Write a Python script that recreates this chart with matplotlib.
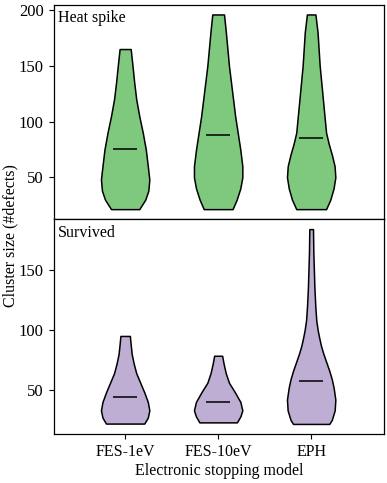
import numpy as np
import matplotlib
matplotlib.use("Agg")
import matplotlib.pyplot as plt

plt.rcParams["font.family"] = ["Liberation Serif", "DejaVu Serif"]
plt.rcParams["font.size"] = 11

# Modelos de freamento eletronico
models = ["FES-1eV", "FES-10eV", "EPH"]

# Perfis de densidade: tamanho do cluster -> meia largura relativa
hs_1ev_size = [21.5, 30, 38, 48, 60, 75, 90, 105, 120, 135, 150, 165]
hs_1ev_dens = [14, 20, 23, 24, 22.5, 20.5, 17.5, 14, 11, 9, 7.3, 5.5]
hs_10ev_size = [21.5, 30, 40, 50, 60, 75, 90, 105, 120, 135, 150, 165, 180, 196]
hs_10ev_dens = [14, 18, 21.5, 23.5, 23.5, 21.5, 19, 16.5, 14.5, 12.5, 10.5, 9, 7.5, 5.7]
hs_eph_size = [21.5, 30, 40, 50, 60, 70, 80, 90, 105, 120, 135, 150, 165, 180, 196]
hs_eph_dens = [14, 18, 21, 22.7, 22, 19.5, 16.5, 14, 12.5, 11, 9.5, 8, 7, 6, 4]

sv_1ev_size = [22, 27, 33, 40, 48, 56, 64, 72, 80, 88, 95]
sv_1ev_dens = [19, 22.5, 24, 22.5, 19, 15, 11, 8.5, 6.5, 5.5, 4.7]
sv_10ev_size = [23, 28, 33, 40, 48, 56, 64, 72, 78.5]
sv_10ev_dens = [17.3, 20.5, 22.3, 20.5, 15.5, 10, 7, 5, 3.7]
sv_eph_size = [21.7, 25, 33, 42, 52, 59, 66, 73, 80, 87, 94, 100, 108, 120, 135, 150, 165, 184]
sv_eph_dens = [16.7, 19, 21.7, 22.3, 20.7, 19, 16.7, 14, 11.3, 9, 7.3, 6, 4.7, 3.8, 3, 2.5, 2, 1.7]

# Medias (linhas pretas)
hs_means = [75.5, 88, 85.3]
sv_means = [44.4, 40.3, 57.5]


def build_stats(sizes, dens, means):
    stats = []
    for s, d, m in zip(sizes, dens, means):
        s = np.asarray(s, dtype=float)
        stats.append({
            "coords": s,
            "vals": np.asarray(d, dtype=float),
            "mean": m,
            "median": np.nan,
            "min": s.min(),
            "max": s.max(),
        })
    return stats


def draw_violins(ax, stats, color):
    pos = np.arange(len(stats))
    parts = ax.violin(stats, positions=pos, widths=0.52,
                      showmeans=True, showextrema=False, showmedians=False)
    for body in parts["bodies"]:
        body.set_facecolor(color)
        body.set_edgecolor("black")
        body.set_linewidth(1.1)
        body.set_alpha(1)
    parts["cmeans"].set_color("black")
    parts["cmeans"].set_linewidth(1.1)


fig = plt.figure(figsize=(3.87, 4.83), dpi=100)
ax_top = fig.add_axes([0.1395, 0.546, 0.852, 0.4437])
ax_bot = fig.add_axes([0.1395, 0.1014, 0.852, 0.4446], sharex=ax_top)

draw_violins(ax_top, build_stats([hs_1ev_size, hs_10ev_size, hs_eph_size],
                                 [hs_1ev_dens, hs_10ev_dens, hs_eph_dens],
                                 hs_means), "#7fc97f")
draw_violins(ax_bot, build_stats([sv_1ev_size, sv_10ev_size, sv_eph_size],
                                 [sv_1ev_dens, sv_10ev_dens, sv_eph_dens],
                                 sv_means), "#beaed4")

ax_top.set_ylim(12.4, 204.5)
ax_top.set_yticks([50, 100, 150, 200])
ax_bot.set_ylim(13.3, 192.2)
ax_bot.set_yticks([50, 100, 150])
ax_bot.set_xlim(-0.765, 2.78)
ax_bot.set_xticks(range(len(models)))
ax_bot.set_xticklabels(models)
ax_top.tick_params(axis="x", bottom=False, labelbottom=False)

for ax in (ax_top, ax_bot):
    ax.tick_params(colors="black", pad=4)
    ax.tick_params(axis="y", labelsize=12)
    ax.tick_params(axis="x", labelsize=11.5)
    for sp in ax.spines.values():
        sp.set_linewidth(0.9)

ax_top.text(0.012, 0.975, "Heat spike", transform=ax_top.transAxes,
            ha="left", va="top", fontsize=11.5)
ax_bot.text(0.012, 0.975, "Survived", transform=ax_bot.transAxes,
            ha="left", va="top", fontsize=11.5)

ax_bot.set_xlabel("Electronic stopping model", fontsize=11.5, labelpad=2)
fig.text(0.027, (483 - 236) / 483, "Cluster size (#defects)", rotation=90,
         ha="center", va="center", fontsize=11.5)

fig.savefig("out.png", dpi=100)
